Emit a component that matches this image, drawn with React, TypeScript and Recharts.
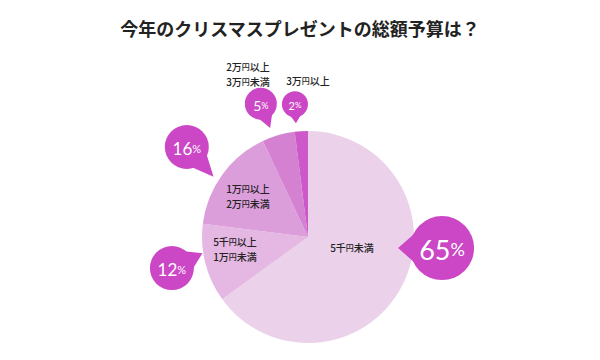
import { Cell, Pie, PieChart } from "recharts";

const categories = ["5千円未満", "5千円以上\n1万円未満", "1万円以上\n2万円未満", "2万円以上\n3万円未満", "3万円以上"];
const shares = [65, 12, 16, 5, 2];
const sliceColors = ["#ebd1ea", "#e5b7e3", "#dc9edb", "#d481d2", "#cc58c9"];
const bubbleColor = "#cb47c5";

const data = categories.map((name, i) => ({ name, value: shares[i] }));

const CX = 303;
const CY = 232;
const R = 106;

// speech bubble placement, polar around the pie centre (deg, px)
const bubbles = [
  { angle: -6.6, dist: 140, r: 32, tail: 180, tailLen: 12, num: 27, pct: 18 },
  { angle: 195.4, dist: 136, r: 22, tail: 26, tailLen: 12, num: 17, pct: 11 },
  { angle: 143.8, dist: 144, r: 22, tail: -48, tailLen: 18, num: 17, pct: 11 },
  { angle: 108.2, dist: 135, r: 16, tail: -69, tailLen: 10, num: 14, pct: 9 },
  { angle: 93.6, dist: 128, r: 13, tail: -87, tailLen: 6, num: 11, pct: 8 }
];

// category text offset from the centre
const textSpots = [
  { dx: 49, dy: 15 },
  { dx: -68, dy: 16 },
  { dx: -55, dy: -37 },
  { dx: -55, dy: -159 },
  { dx: 5, dy: -152 }
];

const rad = (d: number) => (d * Math.PI) / 180;
const font = "'Noto Sans CJK JP', 'Noto Sans', sans-serif";

function YenLine({ text, x, y }: { text: string; x: number; y: number }) {
  const parts = text.split("円");
  return (
    <text x={x} y={y} textAnchor="middle" dominantBaseline="central" fontFamily={font} fontSize={10} fontWeight={500} fill="#222">
      {parts.map((p, i) => (
        <tspan key={i}>
          {p}
          {i < parts.length - 1 && <tspan fontSize={8}>円</tspan>}
        </tspan>
      ))}
    </text>
  );
}

function renderLabel(props: any) {
  const i = props.index;
  const b = bubbles[i];
  const bx = CX + b.dist * Math.cos(rad(b.angle));
  const by = CY - b.dist * Math.sin(rad(b.angle));
  const pt = (a: number, rr: number) => `${bx + rr * Math.cos(rad(a))},${by - rr * Math.sin(rad(a))}`;
  const tailPath = `M${pt(b.tail - 28, b.r - 1)} L${pt(b.tail, b.r + b.tailLen)} L${pt(b.tail + 28, b.r - 1)} Z`;
  const lines = categories[i].split("\n");
  const spot = textSpots[i];
  return (
    <g key={`lab-${i}`}>
      <circle cx={bx} cy={by} r={b.r} fill={bubbleColor} />
      <path d={tailPath} fill={bubbleColor} />
      <text x={bx} y={by + 1} textAnchor="middle" dominantBaseline="central" fill="#fff" fontFamily="Lato, 'Open Sans', sans-serif" fontWeight={400}>
        <tspan fontSize={b.num}>{shares[i]}</tspan>
        <tspan fontSize={b.pct}>%</tspan>
      </text>
      {lines.map((ln, k) => (
        <YenLine key={k} text={ln} x={CX + spot.dx} y={CY + spot.dy + (k - (lines.length - 1) / 2) * 15} />
      ))}
    </g>
  );
}

export default function App() {
  return (
    <div style={{ position: "absolute", left: 0, top: 0, width: 600, height: 360, background: "#fff" }}>
      <div
        style={{
          position: "absolute",
          top: 17,
          left: 0,
          width: 600,
          textAlign: "center",
          fontFamily: font,
          fontWeight: 700,
          fontSize: 18,
          lineHeight: "22px",
          color: "#222"
        }}
      >
        今年のクリスマスプレゼントの総額予算は？
      </div>
      <PieChart width={600} height={360}>
        <Pie
          data={data}
          dataKey="value"
          nameKey="name"
          cx={CX}
          cy={CY}
          outerRadius={R}
          startAngle={90}
          endAngle={-270}
          stroke="none"
          label={renderLabel}
          labelLine={false}
          isAnimationActive={false}
        >
          {data.map((d, i) => (
            <Cell key={d.name} fill={sliceColors[i]} />
          ))}
        </Pie>
      </PieChart>
    </div>
  );
}
